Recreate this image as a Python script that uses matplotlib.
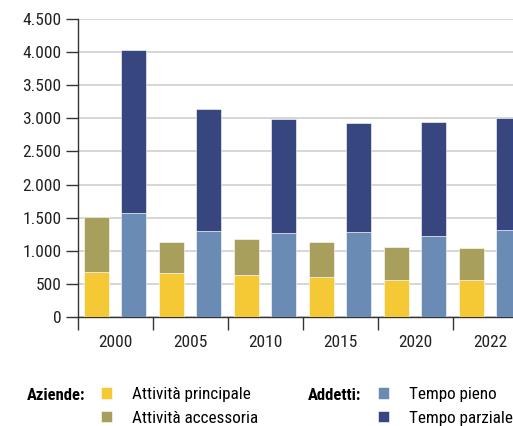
import numpy as np
import matplotlib
matplotlib.use("Agg")
import matplotlib.pyplot as plt
from matplotlib.font_manager import fontManager

names = {f.name for f in fontManager.ttflist}
fam = [n for n in ["Roboto Condensed", "Liberation Sans Narrow", "Liberation Sans", "DejaVu Sans"] if n in names]
plt.rcParams['font.family'] = fam

years = ["2000", "2005", "2010", "2015", "2020", "2022"]
principale = [680, 665, 630, 610, 555, 555]
accessoria = [835, 472, 544, 527, 507, 487]
pieno = [1566, 1304, 1264, 1279, 1228, 1314]
parziale = [2463, 1833, 1731, 1651, 1712, 1692]

c_princ = "#f4c935"
c_acc = "#a99f5c"
c_pieno = "#6a8bb3"
c_parz = "#37467f"

fs = 12.5

fig = plt.figure(figsize=(5.13, 4.26), dpi=100)
ax = fig.add_axes([78 / 513, 109 / 426, 450 / 513, 298 / 426])

x = np.arange(len(years))
w = 0.333
kw = dict(width=w, edgecolor="white", linewidth=0.4, zorder=3)
b1 = ax.bar(x - 0.25, principale, color=c_princ, **kw)
b2 = ax.bar(x - 0.25, accessoria, bottom=principale, color=c_acc, **kw)
b3 = ax.bar(x + 0.245, pieno, color=c_pieno, **kw)
b4 = ax.bar(x + 0.245, parziale, bottom=pieno, color=c_parz, **kw)

ax.set_xlim(-0.5, len(years) - 0.5)
ax.set_ylim(0, 4500)
yt = np.arange(0, 4501, 500)
ax.set_yticks(yt)
ax.set_yticklabels([f"{v:,}".replace(",", ".") for v in yt])
ax.yaxis.grid(True, color="#d6d6d6", linewidth=1.4, zorder=0)
ax.set_axisbelow(True)

ax.set_xticks(np.arange(-0.5, len(years), 1.0))
ax.set_xticklabels([])
ax.set_xticks(x, minor=True)
ax.set_xticklabels(years, minor=True)
ax.tick_params(axis="x", which="major", length=9, width=1, color="#333333")
ax.tick_params(axis="x", which="minor", length=0, pad=13, labelsize=fs, labelcolor="#222222")
ax.tick_params(axis="y", length=9, width=1, color="#333333", pad=3, labelsize=fs, labelcolor="#222222")

for s in ["top", "right"]:
    ax.spines[s].set_visible(False)
for s in ["left", "bottom"]:
    ax.spines[s].set_color("#333333")
    ax.spines[s].set_linewidth(1)

fig.text(27 / 513, 1 - 396 / 426, "Aziende:", fontsize=12, fontweight="bold", va="center")
fig.text(308 / 513, 1 - 396 / 426, "Addetti:", fontsize=12, fontweight="bold", va="center")
lkw = dict(frameon=False, handlelength=0.65, handleheight=0.65, handletextpad=1.15,
           labelspacing=0.5, fontsize=12.3, borderaxespad=0, borderpad=0)
fig.legend([b1, b2], ["Attività principale", "Attività accessoria"], loc="upper left",
           bbox_to_anchor=(101 / 513, 1 - 387 / 426), **lkw)
fig.legend([b3, b4], ["Tempo pieno", "Tempo parziale"], loc="upper left",
           bbox_to_anchor=(378 / 513, 1 - 387 / 426), **lkw)

fig.savefig("out.png", dpi=100)
